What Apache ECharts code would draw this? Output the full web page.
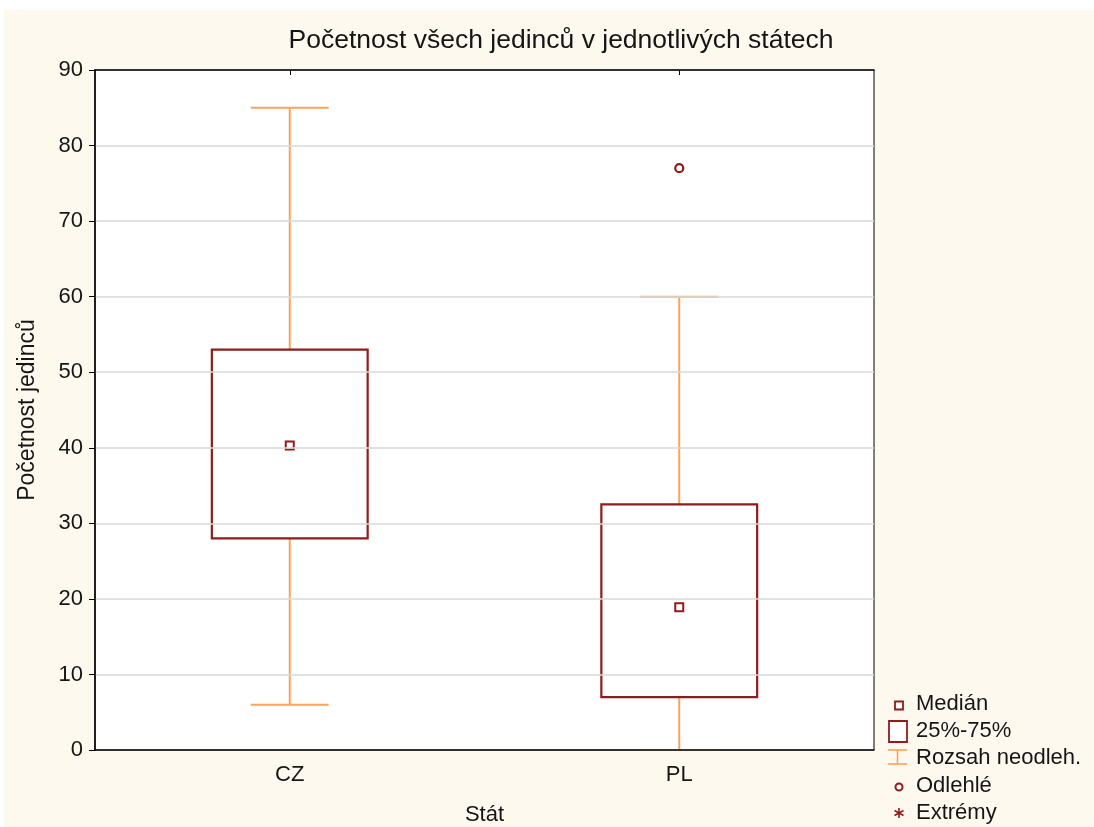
<!DOCTYPE html>
<html>
<head>
<meta charset="utf-8">
<script src="https://cdn.jsdelivr.net/npm/echarts@6/dist/echarts.min.js"></script>
<style>
  html, body { margin: 0; padding: 0; background: #fff; }
  #chart { width: 1094px; height: 827px; }
</style>
</head>
<body>
<div id="chart"></div>
<script>
// Box plot: counts of individuals per country
const categories = ['CZ', 'PL'];
const minValues = [6, 0];
const q1Values = [28, 7];
const medianValues = [40.3, 18.9];
const q3Values = [53, 32.5];
const maxValues = [85, 60];
const outlierCategories = ['PL'];
const outlierValues = [77];
const extremeCategories = [];
const extremeValues = [];
const yTicks = [0, 10, 20, 30, 40, 50, 60, 70, 80, 90];

const DARK_RED = '#8e1c1c';
const ORANGE = '#f9a25c';
const TEXT = '#151515';
const FONT = '"Liberation Sans", Arial, sans-serif';

const boxData = categories.map((c, i) =>
  [i, minValues[i], q1Values[i], medianValues[i], q3Values[i], maxValues[i]]);

const chart = echarts.init(document.getElementById('chart'), null, { renderer: 'canvas' });

function renderWhisker(params, api) {
  const x = api.value(0);
  const band = api.size([1, 0])[0];
  const capHalf = band * 0.10;
  const pMin = api.coord([x, api.value(1)]);
  const pQ1 = api.coord([x, api.value(2)]);
  const pQ3 = api.coord([x, api.value(4)]);
  const pMax = api.coord([x, api.value(5)]);
  const style = { stroke: ORANGE, lineWidth: 2 };
  const line = (x1, y1, x2, y2) => ({ type: 'line', shape: { x1, y1, x2, y2 }, style });
  return {
    type: 'group',
    children: [
      line(pMin[0], pMin[1], pQ1[0], pQ1[1]),
      line(pQ3[0], pQ3[1], pMax[0], pMax[1]),
      line(pMin[0] - capHalf, pMin[1], pMin[0] + capHalf, pMin[1]),
      line(pMax[0] - capHalf, pMax[1], pMax[0] + capHalf, pMax[1])
    ]
  };
}

function renderBox(params, api) {
  const x = api.value(0);
  const band = api.size([1, 0])[0];
  const half = band * 0.20;
  const pQ1 = api.coord([x, api.value(2)]);
  const pQ3 = api.coord([x, api.value(4)]);
  return {
    type: 'rect',
    shape: { x: pQ1[0] - half, y: pQ3[1], width: half * 2, height: pQ1[1] - pQ3[1] },
    style: { fill: '#fff', stroke: DARK_RED, lineWidth: 2.2 }
  };
}

// Legend drawn as graphic elements at the lower right
const legendX = 916;
const legendRows = [
  { text: 'Medián', y: 704 },
  { text: '25%-75%', y: 731 },
  { text: 'Rozsah neodleh.', y: 758 },
  { text: 'Odlehlé', y: 786 },
  { text: 'Extrémy', y: 813 }
];
const iconCx = 898;
const legendGraphics = [
  { type: 'rect', shape: { x: 895, y: 701.5, width: 8, height: 8 },
    style: { fill: '#fff', stroke: DARK_RED, lineWidth: 1.8 } },
  { type: 'rect', shape: { x: 889, y: 721, width: 18, height: 21 },
    style: { fill: '#fff', stroke: DARK_RED, lineWidth: 1.8 } },
  { type: 'polyline', shape: { points: [[888, 750], [907, 750]] }, style: { stroke: ORANGE, lineWidth: 1.6 } },
  { type: 'polyline', shape: { points: [[897.5, 750], [897.5, 764]] }, style: { stroke: ORANGE, lineWidth: 1.6 } },
  { type: 'polyline', shape: { points: [[888, 764], [907, 764]] }, style: { stroke: ORANGE, lineWidth: 1.6 } },
  { type: 'circle', shape: { cx: iconCx + 1, cy: 787, r: 3.5 },
    style: { fill: '#fff', stroke: DARK_RED, lineWidth: 2 } },
  { type: 'group', children: [
      { type: 'line', shape: { x1: iconCx + 1, y1: 808, x2: iconCx + 1, y2: 818 }, style: { stroke: DARK_RED, lineWidth: 1.6 } },
      { type: 'line', shape: { x1: iconCx - 3.5, y1: 810.5, x2: iconCx + 5.5, y2: 815.5 }, style: { stroke: DARK_RED, lineWidth: 1.6 } },
      { type: 'line', shape: { x1: iconCx - 3.5, y1: 815.5, x2: iconCx + 5.5, y2: 810.5 }, style: { stroke: DARK_RED, lineWidth: 1.6 } }
  ] }
].concat(legendRows.map(r => ({
  type: 'text', x: legendX, y: r.y,
  style: { text: r.text, fill: TEXT, font: '22px ' + FONT, textVerticalAlign: 'middle' }
})));

const option = {
  backgroundColor: '#fff',
  animation: false,
  title: {
    text: 'Početnost všech jedinců v jednotlivých státech',
    left: 556, top: 22, textAlign: 'center',
    textStyle: { fontFamily: FONT, fontSize: 26.5, fontWeight: 'normal', color: TEXT }
  },
  grid: {
    left: 95, right: 220, top: 70, bottom: 77,
    outerBoundsMode: 'none', containLabel: false,
    show: true, backgroundColor: '#fff', borderColor: '#000', borderWidth: 1
  },
  xAxis: [{
    type: 'category', data: categories, position: 'bottom', z: 5,
    name: 'Stát', nameLocation: 'middle', nameGap: 54,
    nameTextStyle: { fontFamily: FONT, fontSize: 22, color: TEXT },
    axisLine: { lineStyle: { color: '#000', width: 1.5 } },
    axisTick: { inside: true, alignWithLabel: true, length: 4, lineStyle: { color: '#000' } },
    axisLabel: { fontFamily: FONT, fontSize: 22, color: TEXT, margin: 14 },
    splitLine: { show: false }
  }, {
    type: 'category', data: categories, position: 'top', z: 5, show: true,
    axisLine: { show: true, lineStyle: { color: '#000', width: 1.5 } },
    axisTick: { show: true, inside: true, alignWithLabel: true, length: 5, lineStyle: { color: '#000', width: 1 } },
    axisLabel: { show: false },
    splitLine: { show: false }
  }],
  yAxis: {
    type: 'value', min: 0, max: 90, interval: 10, z: 5,
    name: 'Početnost jedinců', nameLocation: 'middle', nameGap: 56, nameRotate: 90,
    nameTextStyle: { fontFamily: FONT, fontSize: 23, color: TEXT },
    axisLine: { show: true, lineStyle: { color: '#000', width: 1.5 } },
    axisTick: { show: true, length: 6, lineStyle: { color: '#000' } },
    axisLabel: { fontFamily: FONT, fontSize: 22, color: TEXT, margin: 12,
      formatter: v => (yTicks.includes(v) ? String(v) : '') },
    splitLine: { lineStyle: { color: '#d9d9d9', width: 1.5 } }
  },
  graphic: [
    { type: 'rect', z: -10, silent: true, shape: { x: 4, y: 10, width: 1090, height: 817 },
      style: { fill: '#fef9ef' } },
    { type: 'group', children: legendGraphics }
  ],
  series: [
    { name: 'Rozsah neodleh.', type: 'custom', renderItem: renderWhisker, data: boxData,
      encode: { x: 0, y: [1, 2, 3, 4, 5] }, z: 2 },
    { name: '25%-75%', type: 'custom', renderItem: renderBox, data: boxData,
      encode: { x: 0, y: [1, 2, 3, 4, 5] }, z: 3 },
    { name: 'Medián', type: 'scatter', data: categories.map((c, i) => [c, medianValues[i]]),
      symbol: 'rect', symbolSize: 8, z: 4,
      itemStyle: { color: '#fff', borderColor: DARK_RED, borderWidth: 2, opacity: 1 } },
    { name: 'Odlehlé', type: 'scatter', data: outlierCategories.map((c, i) => [c, outlierValues[i]]),
      symbol: 'circle', symbolSize: 8, z: 4,
      itemStyle: { color: '#fff', borderColor: DARK_RED, borderWidth: 2.2, opacity: 1 } },
    { name: 'Extrémy', type: 'scatter', data: extremeCategories.map((c, i) => [c, extremeValues[i]]),
      symbol: 'path://M5 0V10M0.7 2.5L9.3 7.5M0.7 7.5L9.3 2.5', symbolSize: 9, z: 4,
      itemStyle: { color: 'none', borderColor: DARK_RED, borderWidth: 1.5 } }
  ]
};

chart.setOption(option);
</script>
</body>
</html>
